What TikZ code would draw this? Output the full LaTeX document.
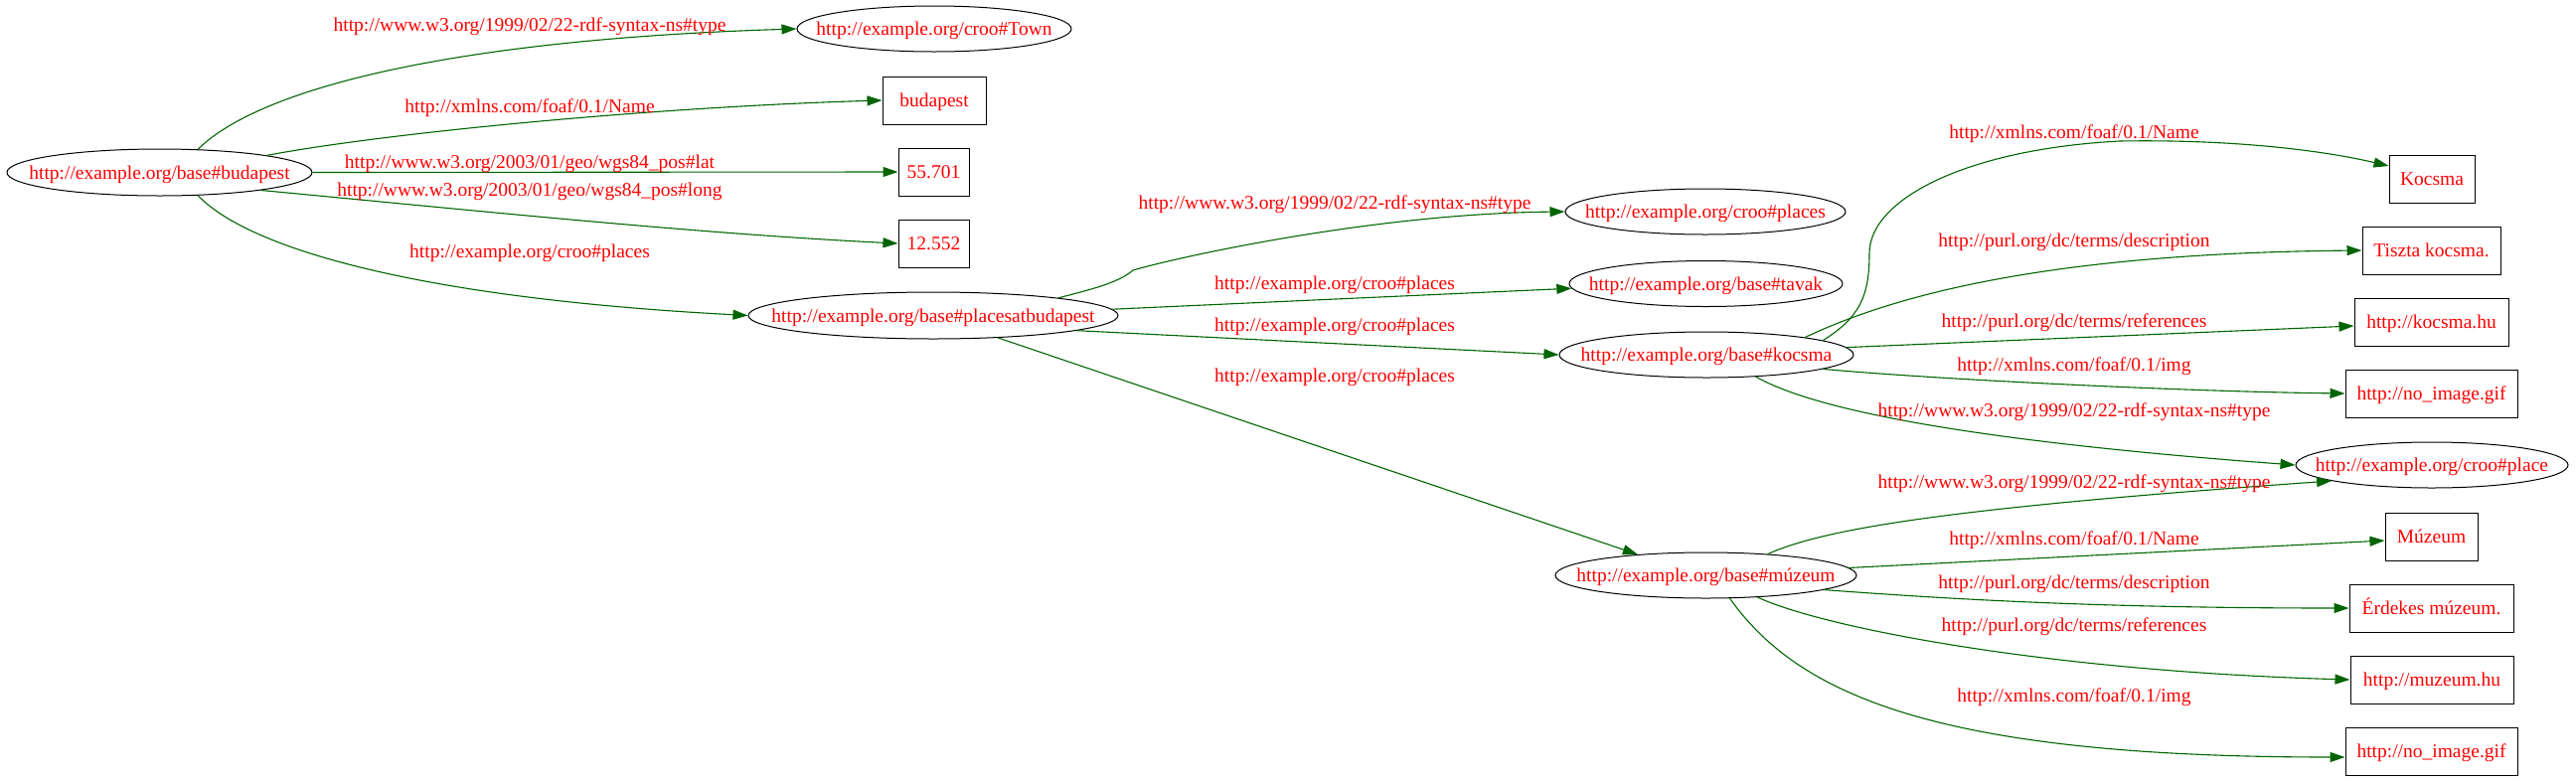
\documentclass[tikz,border=0pt]{standalone}
\usepackage{fontspec}
\setmainfont{Liberation Serif}
\usetikzlibrary{shapes.geometric,arrows.meta}
\definecolor{edgegreen}{RGB}{0,100,0}
\begin{document}
\begin{tikzpicture}[x=1pt,y=-1pt,
  ell/.style={draw=black, ellipse, line width=1pt, inner sep=0pt},
  bx/.style={draw=black, rectangle, line width=1pt, inner sep=0pt, minimum height=48pt},
  txt/.style={text=red, font=\fontsize{19.5}{23}\selectfont, anchor=base, inner sep=0pt},
  edg/.style={draw=edgegreen, line width=1.1pt, -{Triangle[length=15pt,width=10pt]}}]
\useasboundingbox (0,0) rectangle (2592,785);

% nodes
\node[ell, minimum width=307pt, minimum height=47pt] (bp) at (160.5,173.5) {};
\node[txt] (bpT) at ([yshift=-6.5pt]bp.center) {http://example.org/base\#budapest};
\node[ell, minimum width=276pt, minimum height=46pt] (town) at (940,29) {};
\node[txt] (townT) at ([yshift=-6.5pt]town.center) {http://example.org/croo\#Town};
\node[bx, minimum width=104pt] (bbox) at (940,101) {};
\node[txt] (bboxT) at ([yshift=-6.5pt]bbox.center) {budapest};
\node[bx, minimum width=71pt] (b55) at (939.5,173) {};
\node[txt] (b55T) at ([yshift=-6.5pt]b55.center) {55.701};
\node[bx, minimum width=71pt] (b12) at (939.5,245) {};
\node[txt] (b12T) at ([yshift=-6.5pt]b12.center) {12.552};
\node[ell, minimum width=372pt, minimum height=47pt] (pab) at (939,317.5) {};
\node[txt] (pabT) at ([yshift=-6.5pt]pab.center) {http://example.org/base\#placesatbudapest};
\node[ell, minimum width=282pt, minimum height=46pt] (places) at (1716,213) {};
\node[txt] (placesT) at ([yshift=-6.5pt]places.center) {http://example.org/croo\#places};
\node[ell, minimum width=275pt, minimum height=46pt] (tavak) at (1716.5,285.5) {};
\node[txt] (tavakT) at ([yshift=-6.5pt]tavak.center) {http://example.org/base\#tavak};
\node[ell, minimum width=296pt, minimum height=46pt] (koc) at (1717,357) {};
\node[txt] (kocT) at ([yshift=-6.5pt]koc.center) {http://example.org/base\#kocsma};
\node[bx, minimum width=86pt] (kbox) at (2447,180) {};
\node[txt] (kboxT) at ([yshift=-6.5pt]kbox.center) {Kocsma};
\node[bx, minimum width=139pt] (tbox) at (2446.5,252) {};
\node[txt] (tboxT) at ([yshift=-6.5pt]tbox.center) {Tiszta kocsma.};
\node[bx, minimum width=155pt] (khbox) at (2446.5,324) {};
\node[txt] (khboxT) at ([yshift=-6.5pt]khbox.center) {http://kocsma.hu};
\node[bx, minimum width=173pt] (nbox1) at (2446.5,396) {};
\node[txt] (nbox1T) at ([yshift=-6.5pt]nbox1.center) {http://no\_image.gif};
\node[ell, minimum width=274pt, minimum height=46pt] (place) at (2447,468) {};
\node[txt] (placeT) at ([yshift=-6.5pt]place.center) {http://example.org/croo\#place};
\node[bx, minimum width=93pt] (mbox) at (2446.5,540) {};
\node[txt] (mboxT) at ([yshift=-6.5pt]mbox.center) {Múzeum};
\node[bx, minimum width=165pt] (ebox) at (2446.5,612) {};
\node[txt] (eboxT) at ([yshift=-6.5pt]ebox.center) {Érdekes múzeum.};
\node[bx, minimum width=164pt] (hbox) at (2447,684) {};
\node[txt] (hboxT) at ([yshift=-6.5pt]hbox.center) {http://muzeum.hu};
\node[bx, minimum width=173pt] (nbox2) at (2446.5,756) {};
\node[txt] (nbox2T) at ([yshift=-6.5pt]nbox2.center) {http://no\_image.gif};
\node[ell, minimum width=303pt, minimum height=46pt] (muz) at (1716.5,579) {};
\node[txt] (muzT) at ([yshift=-6.5pt]muz.center) {http://example.org/base\#múzeum};

% edges
\draw[edg] (bp.31) .. controls (260,90) and (450,40) .. (town.west);
\draw[edg] (bp.9) .. controls (380,135) and (650,108) .. (bbox.west);
\draw[edg] (bp.0) -- (b55.west);
\draw[edg] (bp.-10) .. controls (480,212) and (700,235) .. (b12.west);
\draw[edg] (bp.-31) .. controls (250,250) and (420,300) .. (pab.west);
\draw[edg] (pab.8) .. controls (1095,292) and (1125,285) .. (1140,272) .. controls (1180,260) and (1380,215) .. (places.west);
\draw[edg] (pab.2) -- (tavak.182);
\draw[edg] (pab.-6) -- (koc.west);
\draw[edg] (pab.-19) -- (muz.163);
\draw[edg] (koc.7) .. controls (1870,320) and (1881,300) .. (1881,255) .. controls (1881,200) and (1980,150) .. (2133,142) .. controls (2250,140) and (2340,152) .. ([yshift=13pt]kbox.west);
\draw[edg] (koc.10) .. controls (1900,300) and (2050,255) .. (tbox.west);
\draw[edg] (koc.3) -- ([yshift=-4pt]khbox.west);
\draw[edg] (koc.-7) .. controls (1950,382) and (2200,394) .. (nbox1.west);
\draw[edg] (koc.-24) .. controls (1830,415) and (2000,445) .. (place.west);
\draw[edg] (muz.19) .. controls (1840,530) and (1980,510) .. (place.-171);
\draw[edg] (muz.3) -- ([yshift=-4pt]mbox.west);
\draw[edg] (muz.-7) .. controls (1950,602) and (2100,612) .. (ebox.west);
\draw[edg] (muz.-23) .. controls (1830,630) and (2050,675) .. (hbox.west);
\draw[edg] (muz.-44) .. controls (1810,700) and (1950,762) .. ([yshift=-6pt]nbox2.west);

% edge labels
\node[txt] (l1) at (533,31.5) {http://www.w3.org/1999/02/22-rdf-syntax-ns\#type};
\node[txt] (l2) at (533,113.5) {http://xmlns.com/foaf/0.1/Name};
\node[txt] (l3) at (533,169.5) {http://www.w3.org/2003/01/geo/wgs84\_pos\#lat};
\node[txt] (l4) at (533,197.5) {http://www.w3.org/2003/01/geo/wgs84\_pos\#long};
\node[txt] (l5) at (533,259.5) {http://example.org/croo\#places};
\node[txt] (l6) at (1343,210.5) {http://www.w3.org/1999/02/22-rdf-syntax-ns\#type};
\node[txt] (l7) at (1343,291.5) {http://example.org/croo\#places};
\node[txt] (l8) at (1343,333.5) {http://example.org/croo\#places};
\node[txt] (l9) at (1343,384.5) {http://example.org/croo\#places};
\node[txt] (l10) at (2087,139.5) {http://xmlns.com/foaf/0.1/Name};
\node[txt] (l11) at (2087,248) {http://purl.org/dc/terms/description};
\node[txt] (l12) at (2087,329.5) {http://purl.org/dc/terms/references};
\node[txt] (l13) at (2087,373.5) {http://xmlns.com/foaf/0.1/img};
\node[txt] (l14) at (2087,419.5) {http://www.w3.org/1999/02/22-rdf-syntax-ns\#type};
\node[txt] (l15) at (2087,491) {http://www.w3.org/1999/02/22-rdf-syntax-ns\#type};
\node[txt] (l16) at (2087,548) {http://xmlns.com/foaf/0.1/Name};
\node[txt] (l17) at (2087,592.5) {http://purl.org/dc/terms/description};
\node[txt] (l18) at (2087,635) {http://purl.org/dc/terms/references};
\node[txt] (l19) at (2087,706.5) {http://xmlns.com/foaf/0.1/img};
\end{tikzpicture}
\end{document}
